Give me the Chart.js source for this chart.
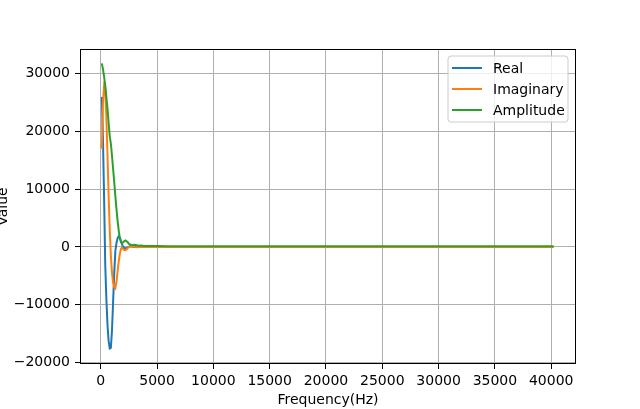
<!DOCTYPE html>
<html><head><meta charset="utf-8">
<script src="https://cdn.jsdelivr.net/npm/chart.js@4"></script>
<style>html,body{margin:0;padding:0;background:#fff}canvas{display:block}</style>
</head><body>
<canvas id="c" width="640" height="409"></canvas>
<script>
// Frequency (Hz)
const freq = [100,200,300,400,500,600,700,800,900,1000,1100,1200,1300,1400,1500,1600,1700,1800,1900,2000,2100,2200,2300,2400,2500,2600,2800,3000,3200,3400,3600,3800,4000,4500,5000,6000,7000,8000,10000,12000,15000,20000,25000,30000,35000,40200];
const realVals = [26000,18500,8500,-3000,-9000,-13500,-16300,-17600,-17500,-14500,-9500,-4500,-700,700,1500,1850,1600,1000,400,0,-200,-280,-200,-100,50,100,80,-20,30,0,10,0,10,0,0,0,0,0,0,0,0,0,0,0,0,0];
const imagVals = [17000,25000,28000,27500,22500,16000,9000,3000,-1500,-4500,-6200,-7000,-7200,-6000,-4200,-2500,-1200,-300,-150,-400,-550,-550,-400,-200,-50,50,100,0,-50,0,20,0,0,0,0,0,0,0,0,0,0,0,0,0,0,0];
const ampVals = [31800,30800,29500,28000,26000,24000,21500,19200,17900,15800,13500,11200,8800,6500,4500,2800,1500,800,650,800,1000,1100,950,800,550,400,300,380,300,200,220,180,160,150,140,130,120,110,100,100,100,100,100,100,100,100];
const xTicks = [0,5000,10000,15000,20000,25000,30000,35000,40000];
const yTicks = [-20000,-10000,0,10000,20000,30000];
const seriesNames = ['Real','Imaginary','Amplitude'];
const seriesColors = ['#1f77b4','#ff7f0e','#2ca02c'];

const FONT = 'DejaVu Sans';
const toPts = arr => arr.map((v,i)=>({x:freq[i], y:v}));
const fmt = v => String(v).replace('-', '\u2212');

const frame = {
  id:'frame',
  afterDatasetsDraw(chart){
    const {ctx, chartArea:a} = chart;
    ctx.save();
    ctx.strokeStyle = '#000'; ctx.lineWidth = 1;
    ctx.strokeRect(Math.round(a.left)+0.5, Math.round(a.top)+0.5, Math.round(a.right-a.left)-1, Math.round(a.bottom-a.top)-1);
    // legend
    const bx=448, by=56, bw=120, bh=66, r=3;
    ctx.beginPath();
    ctx.moveTo(bx+r,by); ctx.lineTo(bx+bw-r,by); ctx.quadraticCurveTo(bx+bw,by,bx+bw,by+r);
    ctx.lineTo(bx+bw,by+bh-r); ctx.quadraticCurveTo(bx+bw,by+bh,bx+bw-r,by+bh);
    ctx.lineTo(bx+r,by+bh); ctx.quadraticCurveTo(bx,by+bh,bx,by+bh-r);
    ctx.lineTo(bx,by+r); ctx.quadraticCurveTo(bx,by,bx+r,by); ctx.closePath();
    ctx.fillStyle='rgba(255,255,255,0.8)'; ctx.fill();
    ctx.strokeStyle='#cccccc'; ctx.lineWidth=1; ctx.stroke();
    const rows=[68,89,110];
    ctx.font = '14px "'+FONT+'"'; ctx.textBaseline='middle'; ctx.textAlign='left';
    chart.data.datasets.forEach((ds,i)=>{
      ctx.strokeStyle=ds.borderColor; ctx.lineWidth=2;
      ctx.beginPath(); ctx.moveTo(452,rows[i]); ctx.lineTo(482,rows[i]); ctx.stroke();
      ctx.fillStyle='#000'; ctx.fillText(ds.label, 493, rows[i]+1);
    });
    // axis titles
    ctx.fillStyle='#000'; ctx.textAlign='center'; ctx.textBaseline='middle';
    ctx.fillText('Frequency(Hz)', (a.left+a.right)/2, 400);
    ctx.save(); ctx.translate(0,(a.top+a.bottom)/2); ctx.rotate(-Math.PI/2);
    ctx.textBaseline='alphabetic'; ctx.fillText('Value',0,7); ctx.restore();
    ctx.restore();
  }
};

new Chart(document.getElementById('c'), {
  type:'line',
  data:{ datasets:[
    {label:seriesNames[0], data:toPts(realVals), borderColor:seriesColors[0], order:2},
    {label:seriesNames[1], data:toPts(imagVals), borderColor:seriesColors[1], order:1},
    {label:seriesNames[2], data:toPts(ampVals), borderColor:seriesColors[2], order:0}
  ]},
  options:{
    responsive:false, animation:false, devicePixelRatio:1,
    layout:{padding:{top:49,right:64,left:0,bottom:0}},
    elements:{line:{borderWidth:2,tension:0,fill:false}, point:{radius:0}},
    plugins:{legend:{display:false}, tooltip:{enabled:false}},
    scales:{
      x:{type:'linear', min:-1840, max:42200,
        afterFit(s){s.height=45;},
        afterBuildTicks(s){s.ticks=xTicks.map(v=>({value:v}));},
        grid:{color:'#b0b0b0', lineWidth:1, tickColor:'#000', tickLength:5, drawTicks:true},
        border:{display:false},
        ticks:{autoSkip:false, maxRotation:0, padding:4, color:'#000', font:{family:FONT,size:14}, callback:v=>fmt(v)}
      },
      y:{type:'linear', min:-20300, max:34300,
        afterFit(s){s.width=80;},
        afterBuildTicks(s){s.ticks=yTicks.map(v=>({value:v}));},
        grid:{color:'#b0b0b0', lineWidth:1, tickColor:'#000', tickLength:5, drawTicks:true},
        border:{display:false},
        ticks:{autoSkip:false, padding:5, color:'#000', font:{family:FONT,size:14}, callback:v=>fmt(v)}
      }
    }
  },
  plugins:[frame]
});
</script>
</body></html>
